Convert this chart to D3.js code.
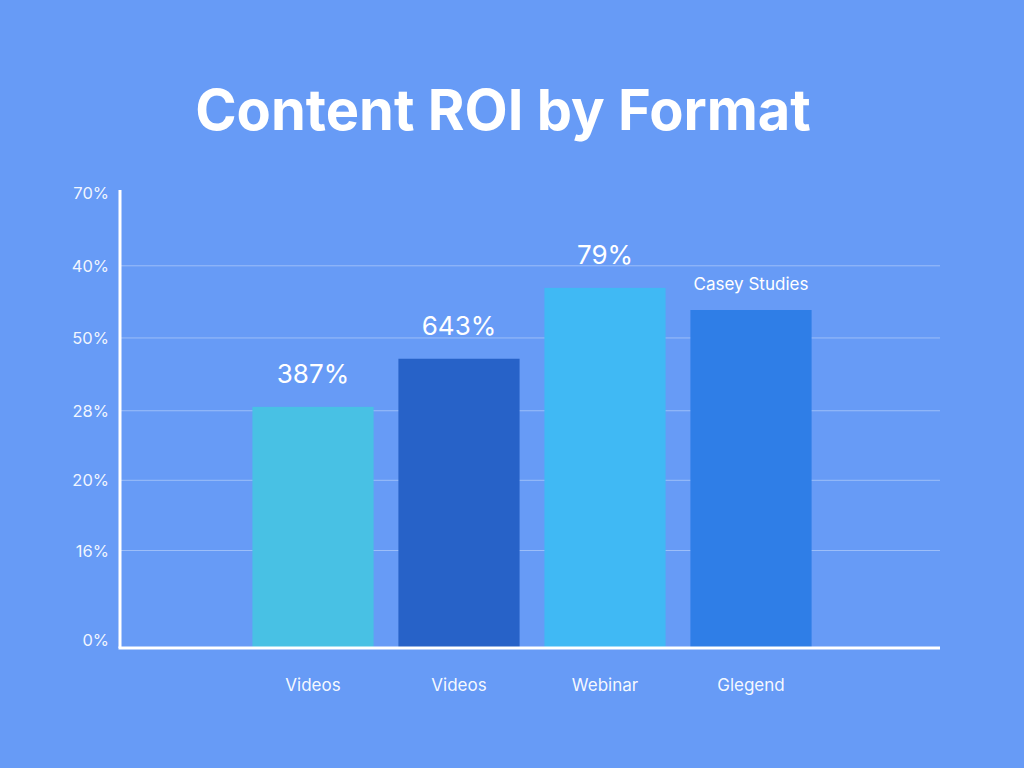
<!DOCTYPE html>
<html>
<head>
<meta charset="utf-8">
<script src="https://cdn.jsdelivr.net/npm/d3@7"></script>
<style>
    html, body { margin: 0; padding: 0; background: #679bf6; }
    svg { display: block; font-family: Inter, "Noto Sans", sans-serif; }
</style>
</head>
<body>
<svg id="drawing_region"></svg>
<script>
// values
const categories = ['Videos', 'Videos', 'Webinar', 'Glegend'];
const roiValues = [37.1, 44.5, 55.4, 52.0];
const barLabels = ['387%', '643%', '79%', 'Casey Studies'];
const barColors = ['#48c1e4', '#2762c8', '#40b9f4', '#2f7ee7'];
const tickValues = [0, 15, 25.8, 36.5, 47.7, 58.8, 70];
const tickLabels = ['0%', '16%', '20%', '28%', '50%', '40%', '70%'];

class BarChart {
    constructor(config) {
        this.config = {
            parentElement: config.parentElement,
            width: config.width || 1024,
            height: config.height || 768,
            margin: config.margin || {top: 193, right: 84, bottom: 120, left: 120}
        };
        this.init();
    }

    init() {
        const {width, height, margin} = this.config;

        this.svg = d3.select(this.config.parentElement)
            .attr('width', width)
            .attr('height', height);

        this.svg.append('rect')
            .attr('width', width)
            .attr('height', height)
            .attr('fill', '#679bf6');

        this.svg.append('text')
            .attr('x', 503)
            .attr('y', 130)
            .attr('text-anchor', 'middle')
            .attr('fill', 'white')
            .attr('font-size', '56px')
            .attr('font-weight', 'bold')
            .text('Content ROI by Format');

        this.y = d3.scaleLinear()
            .domain([0, 70])
            .range([height - margin.bottom, margin.top]);

        this.x = d3.scaleBand()
            .domain(d3.range(categories.length))
            .range([240, 824])
            .paddingInner(0.17)
            .paddingOuter(0.085);
    }

    render() {
        const {width, margin} = this.config;
        const x = this.x, y = this.y;
        const x0 = margin.left, x1 = width - margin.right;

        // grid lines (not at 0 or top)
        this.svg.append('g')
            .selectAll('line')
            .data(tickValues.slice(1, -1))
            .join('line')
            .attr('x1', x0)
            .attr('x2', x1)
            .attr('y1', d => y(d))
            .attr('y2', d => y(d))
            .attr('stroke', 'white')
            .attr('stroke-opacity', 0.35)
            .attr('stroke-width', 1);

        // y tick labels
        this.svg.append('g')
            .selectAll('text')
            .data(tickValues)
            .join('text')
            .attr('x', 109)
            .attr('y', (d, i) => i === 0 ? y(d) - 2 : y(d) + 6)
            .attr('text-anchor', 'end')
            .attr('fill', 'white')
            .attr('fill-opacity', 0.92)
            .attr('font-size', '16.5px')
            .text((d, i) => tickLabels[i]);

        // bars
        this.svg.append('g')
            .selectAll('rect')
            .data(roiValues)
            .join('rect')
            .attr('x', (d, i) => x(i))
            .attr('width', x.bandwidth())
            .attr('y', d => y(d))
            .attr('height', d => y(0) - y(d))
            .attr('fill', (d, i) => barColors[i]);

        // labels above bars
        this.svg.append('g')
            .selectAll('text')
            .data(roiValues)
            .join('text')
            .attr('x', (d, i) => x(i) + x.bandwidth() / 2)
            .attr('y', (d, i) => i === 3 ? y(d) - 20 : y(d) - 24)
            .attr('text-anchor', 'middle')
            .attr('fill', 'white')
            .attr('font-size', (d, i) => i === 3 ? '17px' : '26px')
            .text((d, i) => barLabels[i]);

        // axes lines
        this.svg.append('line')
            .attr('x1', x0).attr('x2', x0)
            .attr('y1', y(70) - 3).attr('y2', y(0))
            .attr('stroke', 'white')
            .attr('stroke-width', 3);

        this.svg.append('line')
            .attr('x1', x0 - 1.5).attr('x2', x1)
            .attr('y1', y(0)).attr('y2', y(0))
            .attr('stroke', 'white')
            .attr('stroke-width', 3);

        // category labels
        this.svg.append('g')
            .selectAll('text')
            .data(categories)
            .join('text')
            .attr('x', (d, i) => x(i) + x.bandwidth() / 2)
            .attr('y', 691)
            .attr('text-anchor', 'middle')
            .attr('fill', 'white')
            .attr('fill-opacity', 0.95)
            .attr('font-size', '17px')
            .text(d => d);
    }
}

const chart = new BarChart({parentElement: '#drawing_region'});
chart.render();
</script>
</body>
</html>
